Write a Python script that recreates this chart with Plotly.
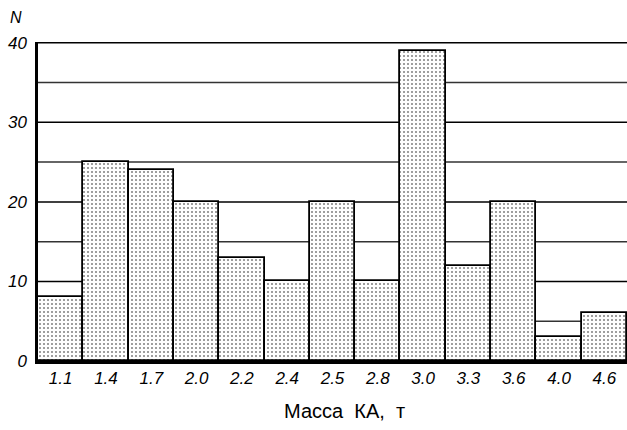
import plotly.graph_objects as go

categories = ["1.1", "1.4", "1.7", "2.0", "2.2", "2.4", "2.5", "2.8", "3.0", "3.3", "3.6", "4.0", "4.6"]
counts = [8, 25, 24, 20, 13, 10, 20, 10, 39, 12, 20, 3, 6]
y_ticks = [0, 10, 20, 30, 40]
x_title = "Масса\u00a0\u00a0КА,\u00a0\u00a0т"

fig = go.Figure()
fig.add_trace(go.Bar(
    x=categories, y=counts,
    marker=dict(
        color="white",
        line=dict(color="black", width=1.8),
        pattern=dict(shape=".", fgcolor="black", bgcolor="white", size=4, solidity=0.2),
    ),
    width=1.0,
))

fig.update_layout(
    width=627, height=430,
    margin=dict(l=38, r=0, t=42, b=69, autoexpand=False),
    paper_bgcolor="white", plot_bgcolor="white",
    bargap=0,
    showlegend=False,
    font=dict(family="Liberation Sans, Arial, sans-serif", color="black"),
    xaxis=dict(
        type="category", automargin=False,
        tickfont=dict(size=17, style="italic"),
        showline=True, linecolor="black", linewidth=2.5,
        showgrid=False, ticks="", ticklen=0,
    ),
    yaxis=dict(
        range=[0, 40.1], automargin=False,
        tickvals=y_ticks,
        ticktext=[str(v) for v in y_ticks],
        tickfont=dict(size=17, style="italic"),
        showline=True, linecolor="black", linewidth=2.5,
        showgrid=False, zeroline=False, ticks="",
        ticklabelstandoff=5,
    ),
    annotations=[
        dict(text="N", xref="paper", yref="paper", x=-0.037, y=1.078,
             xanchor="center", yanchor="middle", showarrow=False,
             font=dict(size=16, style="italic")),
        dict(text=x_title, xref="paper", yref="paper", x=0.52, y=-0.157,
             xanchor="center", yanchor="middle", showarrow=False,
             font=dict(size=20)),
    ],
)

for g in [5, 10, 15, 20, 25, 30, 35, 40]:
    fig.add_shape(type="line", xref="paper", yref="y", x0=0, x1=1, y0=g, y1=g,
                  line=dict(color="#333333" if g % 10 else "black", width=1.5), layer="below")

fig.write_html("out.html", config={"displayModeBar": False},
               post_script="document.body.style.margin='0';")
